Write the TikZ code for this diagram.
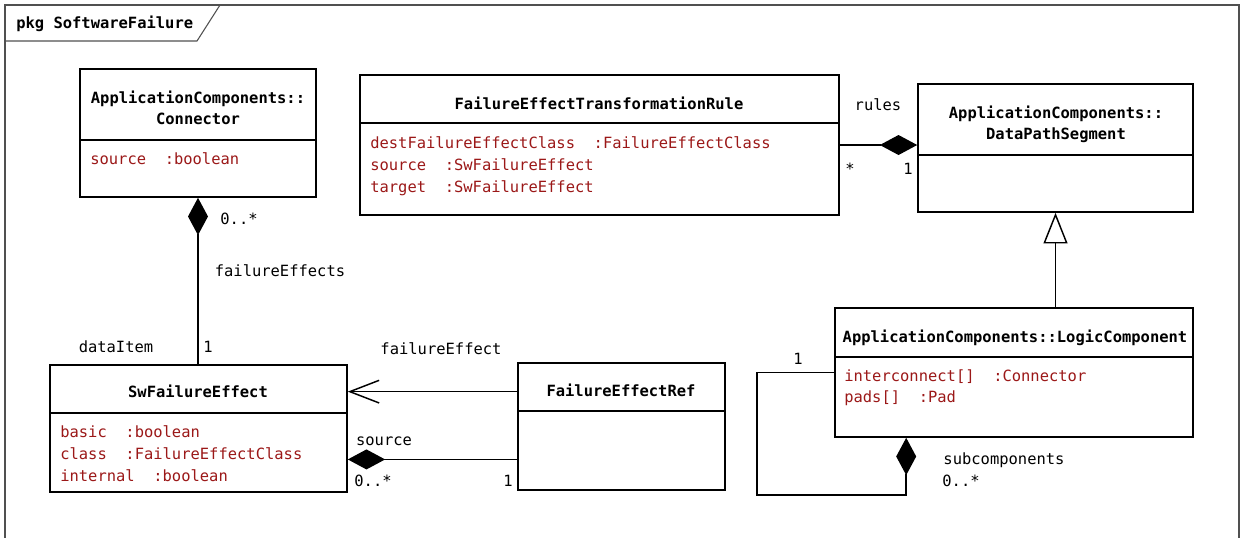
\documentclass[tikz,border=0pt]{standalone}
\usepackage{fontspec}
\setmonofont{DejaVu Sans Mono}
\usetikzlibrary{arrows.meta,calc,fit}
\definecolor{attr}{RGB}{155,24,24}
\definecolor{framegray}{RGB}{80,80,80}
\tikzset{
  umlbox/.style={draw, line width=1.2pt, inner sep=0pt},
  divider/.style={line width=1.2pt},
  txt/.style={font=\ttfamily\fontsize{11.6}{14}\selectfont, inner sep=0pt, anchor=mid, yshift=-2.2pt},
  title/.style={txt, font=\ttfamily\bfseries\fontsize{11.6}{14}\selectfont},
  attrib/.style={txt, anchor=mid west, text=attr},
  lbl/.style={txt},
  assoc/.style={line width=1.1pt},
  comp/.style={assoc, {Diamond[length=28pt,width=15pt]}-},
  nav/.style={assoc, -{Straight Barb[length=22pt,width=17pt]}},
  gen/.style={assoc, -{Triangle[open,length=23pt,width=18pt,fill=white]}},
  pkgframe/.style={draw=framegray, line width=0.8pt},
}
\begin{document}
\begin{tikzpicture}[x=0.75pt,y=-0.75pt]
\useasboundingbox (0,0) rectangle (1242,537);

% package frame and its name tab
\draw[pkgframe] (5,540) -- (5,5) -- (1239,5) -- (1239,540);
\draw[pkgframe] (5,41) -- (197,41) -- (220,5);
\node[title, anchor=mid west] (pkgname) at (16,23) {pkg SoftwareFailure};

% ---------- classes ----------
% ApplicationComponents::Connector
\node[umlbox, fit={(80,69) (316,197)}] (conn) {};
\draw[divider] (80,140) -- (316,140);
\node[title] (connT1) at (198,98) {ApplicationComponents::};
\node[title] (connT2) at (198,119) {Connector};
\node[attrib] (connA1) at (90,159) {source~~:boolean};

% FailureEffectTransformationRule
\node[umlbox, fit={(360,75) (839,215)}] (fetr) {};
\draw[divider] (360,123) -- (839,123);
\node[title] (fetrT) at (599,104) {FailureEffectTransformationRule};
\node[attrib] (fetrA1) at (370,143) {destFailureEffectClass~~:FailureEffectClass};
\node[attrib] (fetrA2) at (370,165) {source~~:SwFailureEffect};
\node[attrib] (fetrA3) at (370,187) {target~~:SwFailureEffect};

% ApplicationComponents::DataPathSegment
\node[umlbox, fit={(918,84) (1193,212)}] (dps) {};
\draw[divider] (918,155) -- (1193,155);
\node[title] (dpsT1) at (1056,113) {ApplicationComponents::};
\node[title] (dpsT2) at (1056,134) {DataPathSegment};

% ApplicationComponents::LogicComponent
\node[umlbox, fit={(835,308) (1193,437)}] (lc) {};
\draw[divider] (835,357) -- (1193,357);
\node[title] (lcT) at (1015,337) {ApplicationComponents::LogicComponent};
\node[attrib] (lcA1) at (844,376) {interconnect[]~~:Connector};
\node[attrib] (lcA2) at (844,397) {pads[]~~:Pad};

% SwFailureEffect
\node[umlbox, fit={(50,365) (347,492)}] (sfe) {};
\draw[divider] (50,413) -- (347,413);
\node[title] (sfeT) at (198,392) {SwFailureEffect};
\node[attrib] (sfeA1) at (60,432) {basic~~:boolean};
\node[attrib] (sfeA2) at (60,454) {class~~:FailureEffectClass};
\node[attrib] (sfeA3) at (60,476) {internal~~:boolean};

% FailureEffectRef
\node[umlbox, fit={(518,363) (725,490)}] (fer) {};
\draw[divider] (518,411) -- (725,411);
\node[title] (ferT) at (621,391) {FailureEffectRef};

% ---------- relationships ----------
% rules: DataPathSegment owns transformation rules
\draw[comp] (dps.west |- fetr.east) -- (fetr.east);
\node[lbl] (rulesL) at (878,105) {rules};
\node[lbl] (rulesM1) at (850,169) {*};
\node[lbl] (rulesM2) at (908,169) {1};

% generalization LogicComponent -> DataPathSegment
\draw[gen] (dps.south |- lc.north) -- (dps.south);

% failureEffects: Connector owns SwFailureEffect items
\draw[comp] (conn.south) -- (conn.south |- sfe.north);
\node[lbl] (feM1) at (239,219) {0..*};
\node[lbl] (feL) at (280,271) {failureEffects};
\node[lbl] (diL) at (116,347) {dataItem};
\node[lbl] (diM) at (208,347) {1};

% failureEffect: navigable reference
\draw[nav] ([yshift=-0.75pt]ferT.center -| fer.west) -- ([yshift=-0.75pt]ferT.center -| sfe.east);
\node[lbl] (nfL) at (441,349) {failureEffect};

% source composition
\coordinate (srcend) at ($(fer.north west)!0.756!(fer.south west)$);
\draw[comp] (srcend -| sfe.east) -- (srcend);
\node[lbl] (srcL) at (384,440) {source};
\node[lbl] (srcM1) at (373,481) {0..*};
\node[lbl] (srcM2) at (508,481) {1};

% subcomponents: self composition of LogicComponent
\draw[comp] ([xshift=54pt]lc.south west) -- ++(0,57) -| ([xshift=-58pt]lc.west) -- (lc.west);
\node[lbl] (subM1) at (798,359) {1};
\node[lbl] (subL) at (1004,459) {subcomponents};
\node[lbl] (subM2) at (961,481) {0..*};
\end{tikzpicture}
\end{document}
